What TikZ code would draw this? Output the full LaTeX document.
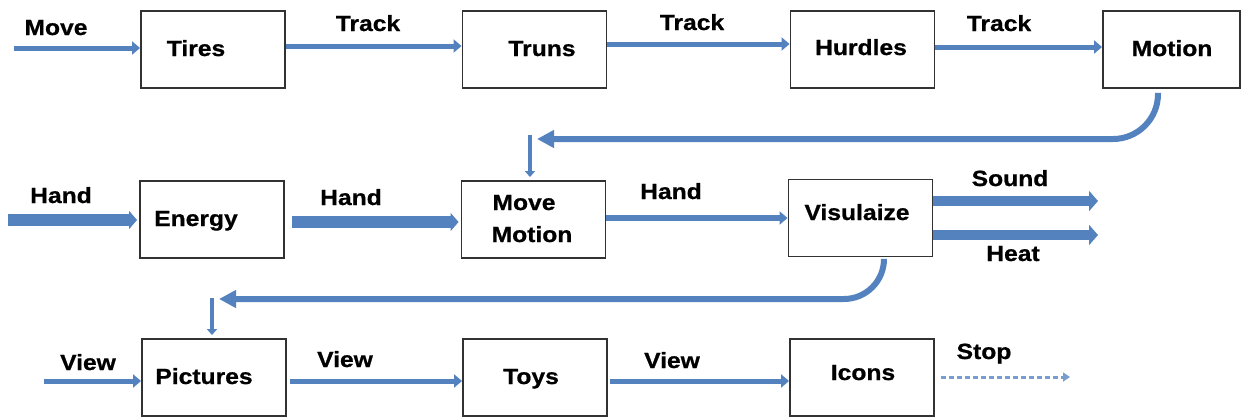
\documentclass[tikz,border=0pt]{standalone}
\usepackage{fontspec}
\setmainfont{Liberation Sans}[FakeStretch=1.12, BoldFeatures={FakeBold=0.8}]
\usetikzlibrary{arrows.meta}
\definecolor{flow}{RGB}{84,130,190}
\definecolor{flowlight}{RGB}{120,158,205}
\definecolor{edge}{RGB}{50,50,50}
\tikzset{
  box/.style={draw=edge, line width=1.9pt, fill=white, minimum width=144pt, minimum height=77pt, inner sep=0pt},
  txt/.style={font=\fontsize{22}{32}\selectfont\bfseries, anchor=base, inner sep=0pt, align=left},
  thin/.style={draw=flow, line width=5pt, -{Triangle[length=8pt,width=13pt]}},
  thick/.style={draw=flow, line width=12pt, -{Triangle[length=8pt,width=18pt]}},
  mid/.style={draw=flow, line width=10pt, -{Triangle[length=9pt,width=20pt]}},
  loop/.style={draw=flow, line width=6pt, rounded corners=45pt, -{Triangle[length=17pt,width=17pt]}},
  drop/.style={draw=flow, line width=4pt, -{Triangle[length=6pt,width=10pt]}},
  dots/.style={draw=flowlight, line width=3pt, dash pattern=on 5pt off 3pt, -{Triangle[length=7pt,width=9pt]}}
}
\begin{document}
\begin{tikzpicture}[x=1pt,y=-1pt]
\useasboundingbox (0,0) rectangle (1244,416);

% first row
\node[box] (tires)   at (213,49.5)    {};
\node[box] (truns)   at (534.5,49.5)  {};
\node[box] (hurdles) at (862.5,49.5)  {};
\node[box, minimum width=137pt] (motion) at (1171.5,49.5) {};

% second row
\node[box] (energy)     at (212,219.5)   {};
\node[box] (movemotion) at (533.5,219.5) {};
\node[box] (visual)     at (860.5,218)   {};

% third row
\node[box] (pictures) at (214,377.5) {};
\node[box] (toys)     at (535,377.5) {};
\node[box] (icons)    at (862,377.5) {};

% box captions
\node[txt] (tiresT)   at (196,56)   {Tires};
\node[txt] (trunsT)   at (542,56)   {Truns};
\node[txt] (hurdlesT) at (861,55)   {Hurdles};
\node[txt] (motionT)  at (1172,56)  {Motion};
\node[txt] (energyT)  at (196,226)  {Energy};
\node[txt] (mmT1)     at (524,210)  {Move};
\node[txt] (mmT2)     at (532,242)  {Motion};
\node[txt] (visualT)  at (857,220)  {Visulaize};
\node[txt] (picturesT) at (204,384) {Pictures};
\node[txt] (toysT)    at (531,384)  {Toys};
\node[txt] (iconsT)   at (863,380)  {Icons};

% connector labels
\node[txt] (l1)  at (56,35)    {Move};
\node[txt] (l2)  at (368,31)   {Track};
\node[txt] (l3)  at (692,30)   {Track};
\node[txt] (l4)  at (999,31)   {Track};
\node[txt] (l5)  at (61,203)   {Hand};
\node[txt] (l6)  at (351,205)  {Hand};
\node[txt] (l7)  at (671,199)  {Hand};
\node[txt] (l8)  at (1010,186) {Sound};
\node[txt] (l9)  at (1013,261) {Heat};
\node[txt] (l10) at (88,370)   {View};
\node[txt] (l11) at (345,367)  {View};
\node[txt] (l12) at (672,368)  {View};
\node[txt] (l13) at (984,359)  {Stop};

% free ends
\coordinate (in1) at (14,48);
\coordinate (in2) at (8,220);
\coordinate (in3) at (44,381);
\coordinate (out1) at (1098,201);
\coordinate (out2) at (1098,235);
\coordinate (out3) at (1070,377);
\coordinate (turnA) at (537,139);
\coordinate (dropA) at (530,135);
\coordinate (turnB) at (219,299);
\coordinate (dropB) at (212,298);

% first row flow
\draw[thin] (in1) -- (in1 -| tires.west);
\draw[thin] ([yshift=3.5pt]tires.east) -- ([yshift=3.5pt]truns.west);
\draw[thin] ([yshift=5.5pt]truns.east) -- ([yshift=5.5pt]hurdles.west);
\draw[thin] ([yshift=2.5pt]hurdles.east) -- ([yshift=2.5pt]motion.west);

% return to second row
\draw[loop] ([xshift=-13.5pt,yshift=-4pt]motion.south) |- (turnA);
\draw[drop] (dropA) -- ([yshift=3pt]dropA |- movemotion.north);

% second row flow
\draw[thick] (in2) -- ([xshift=-2pt]in2 -| energy.west);
\draw[thick] ([xshift=7pt,yshift=-2.5pt]energy.east) -- ([xshift=-2pt,yshift=-2.5pt]movemotion.west);
\draw[thin, line width=6pt] ([yshift=1.5pt]movemotion.east) -- ([yshift=1.5pt]movemotion.east -| visual.west);
\draw[mid] (out1 -| visual.east) -- (out1);
\draw[mid] (out2 -| visual.east) -- (out2);

% return to third row
\draw[loop, rounded corners=40pt] ([xshift=23.5pt,yshift=-2pt]visual.south) |- (turnB);
\draw[drop] (dropB) -- ([yshift=3pt]dropB |- pictures.north);

% third row flow
\draw[thin] (in3) -- (in3 -| pictures.west);
\draw[thin] ([xshift=3pt,yshift=-3.5pt]pictures.east) -- ([yshift=-3.5pt]toys.west);
\draw[thin] ([xshift=2pt,yshift=-3.5pt]toys.east) -- ([yshift=-3.5pt]icons.west);
\draw[dots] ([xshift=6pt]out3 -| icons.east) -- (out3);
\end{tikzpicture}
\end{document}
